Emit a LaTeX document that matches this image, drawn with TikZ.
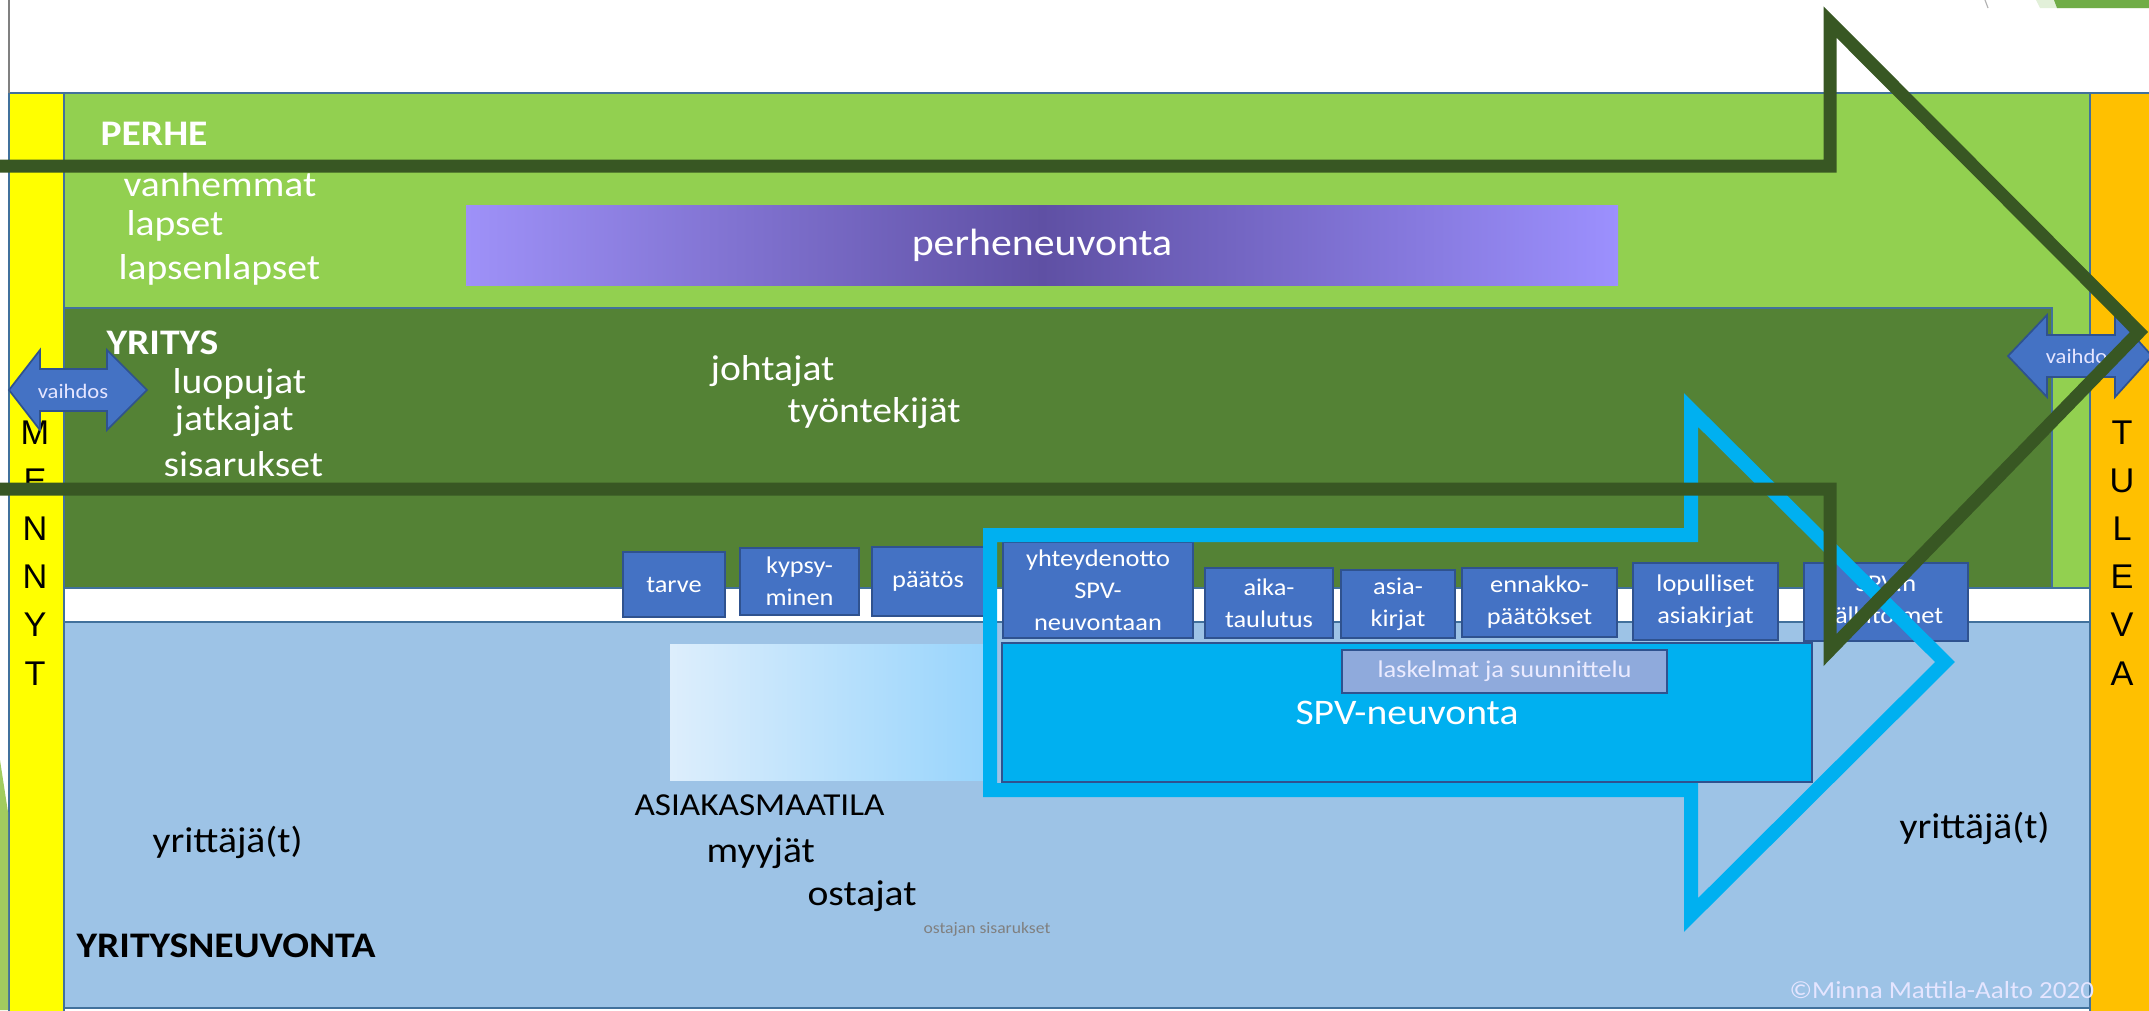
\documentclass[tikz,border=0pt]{standalone}
\usepackage{fontspec}
\setmainfont{Carlito}[FakeStretch=1.1]
\newfontfamily\arialfont{Liberation Sans}

\definecolor{perhegreen}{HTML}{92D050}
\definecolor{yritysgreen}{HTML}{548235}
\definecolor{arrowgreen}{HTML}{385723}
\definecolor{neuvblue}{HTML}{9DC3E6}
\definecolor{spvcyan}{HTML}{00B0F0}
\definecolor{stepblue}{HTML}{4472C4}
\definecolor{stepline}{HTML}{2F528F}
\definecolor{calcblue}{HTML}{8FAADC}
\definecolor{edgeblue}{HTML}{41719C}
\definecolor{pastyellow}{HTML}{FFFF00}
\definecolor{futureorange}{HTML}{FFC000}
\definecolor{purpleleft}{HTML}{9E91F8}
\definecolor{purpledark}{HTML}{5F50A4}
\definecolor{purpleright}{HTML}{9C90FE}
\definecolor{skylight}{HTML}{DDEEFC}
\definecolor{skymid}{HTML}{97D4FC}
\definecolor{slidegreen}{HTML}{70AD47}
\definecolor{slidepale}{HTML}{E2F0D9}
\definecolor{sliver}{HTML}{A2CC5E}

\newcommand{\pxl}{0.35pt}

\begin{document}
\begin{tikzpicture}[x=0.35pt, y=-0.35pt,
    band/.style={draw=edgeblue, line width=0.5pt},
    stepbox/.style={draw=stepline, line width=0.6pt, fill=stepblue, text=white,
      align=center, inner sep=0pt, font=\fontsize{8.4}{11.2}\selectfont},
    lbl/.style={anchor=base west, inner sep=0pt, text=white, font=\fontsize{12.6}{15}\selectfont},
    letter/.style={anchor=base, inner sep=0pt, font=\arialfont\fontsize{12}{14}\selectfont},
    vaihdos/.style={fill=stepblue, draw=stepline, line width=0.6pt},
    vtext/.style={inner sep=0pt, text=white!90!blue, font=\fontsize{7.2}{9}\selectfont}
  ]
    \useasboundingbox (0,0) rectangle (2149,1010);
    \clip (0,0) rectangle (2149,1010);
    \fill [white] (0,0) rectangle (2149,1010);

    % bands
    \draw [band, fill=perhegreen] (64,93) rectangle (2090,588);
    \draw [band, fill=yritysgreen] (64,308) rectangle (2052,588);
    \draw [band, fill=neuvblue] (64,622) rectangle (2090,1008);
    \draw [band, fill=pastyellow] (9,93) rectangle (64,1014);
    \draw [band, fill=futureorange] (2090,93) rectangle (2154,1014);
    \draw [gray, line width=0.4pt] (9,0) -- (9,93);

    % slide bits at the edges
    \fill [sliver] (0,760) -- (8,812) -- (8,1010) -- (0,1010) -- cycle;
    \fill [slidepale] (2036,0) -- (2149,0) -- (2149,8) -- (2040,8) -- cycle;
    \fill [slidegreen] (2054,0) -- (2149,0) -- (2149,8) -- (2057,8) -- cycle;
    \draw [gray!60, line width=0.4pt] (1985,0) -- (1988,8);

    % counselling areas
    \node [inner sep=0pt, minimum width=1152*\pxl, minimum height=80*\pxl,
      left color=purpleleft, right color=purpleright, middle color=purpledark,
      text=white, font=\fontsize{13.3}{16}\selectfont] (perheneuvonta) at (1042,245) {perheneuvonta};
    \node [inner sep=0pt, minimum width=320*\pxl, minimum height=136*\pxl,
      left color=skylight, right color=skymid] (maatila) at (830,712) {};
    \node [draw=stepline, line width=0.6pt, fill=spvcyan, inner sep=0pt,
      minimum width=810*\pxl, minimum height=139*\pxl,
      text=white, font=\fontsize{12.6}{15}\selectfont] (spv) at (1407,712.5) {SPV-neuvonta};
    \node [draw=stepline, line width=0.6pt, fill=calcblue, inner sep=0pt,
      minimum width=325*\pxl, minimum height=43*\pxl,
      text=white!92!blue, font=\fontsize{8.4}{10}\selectfont] (laskelmat) at (1504.5,671.5) {laskelmat ja suunnittelu};

    % steps
    \node [stepbox, minimum width=102*\pxl, minimum height=65*\pxl] (tarve) at (674,584.5) {tarve};
    \node [stepbox, minimum width=119*\pxl, minimum height=67*\pxl] (kypsyminen) at (799.5,581.5) {kypsy-\\minen};
    \node [stepbox, minimum width=112*\pxl, minimum height=69*\pxl] (paatos) at (928,581.5) {päätös};
    \node [stepbox, minimum width=190*\pxl, minimum height=96*\pxl] (yhteydenotto) at (1098,590) {yhteydenotto\\SPV-\\neuvontaan};
    \node [stepbox, minimum width=128*\pxl, minimum height=70*\pxl] (aikataulutus) at (1269,603) {aika-\\taulutus};
    \node [stepbox, minimum width=114*\pxl, minimum height=68*\pxl] (asiakirjat) at (1398,604) {asia-\\kirjat};
    \node [stepbox, minimum width=155*\pxl, minimum height=69*\pxl] (ennakko) at (1539.5,602.5) {ennakko-\\päätökset};
    \node [stepbox, minimum width=145*\pxl, minimum height=77*\pxl] (lopulliset) at (1705.5,601.5) {lopulliset\\asiakirjat};
    \node [stepbox, minimum width=164*\pxl, minimum height=78*\pxl] (jalkitoimet) at (1886,602) {SPV:n\\jälkitoimet};

    % time columns
    \foreach \ltr [count=\i from 0] in {M,E,N,N,Y,T}
        \node [letter] (menny\i) at (35,{444+48.2*\i}) {\ltr};
    \foreach \ltr [count=\i from 0] in {T,U,L,E,V,A}
        \node [letter] (tuleva\i) at (2122,{444+48.2*\i}) {\ltr};

    % family and company
    \node [lbl, font=\bfseries\fontsize{12.6}{15}\selectfont] (perhe) at (100,145) {PERHE};
    \node [lbl] (vanhemmat) at (123,196) {vanhemmat};
    \node [lbl] (lapset) at (126,235) {lapset};
    \node [lbl] (lapsenlapset) at (118,279) {lapsenlapset};
    \node [lbl, font=\bfseries\fontsize{12.6}{15}\selectfont] (yritys) at (106,354) {YRITYS};
    \node [lbl] (luopujat) at (172,393) {luopujat};
    \node [lbl] (jatkajat) at (174,430) {jatkajat};
    \node [lbl] (sisarukset) at (163,476) {sisarukset};
    \node [lbl] (johtajat) at (710,380) {johtajat};
    \node [lbl] (tyontekijat) at (787,422) {työntekijät};

    % business counselling
    \node [lbl, text=black] (yrittajaL) at (152,852) {yrittäjä(t)};
    \node [lbl, text=black] (yrittajaR) at (1899,838) {yrittäjä(t)};
    \node [lbl, text=black, font=\bfseries\fontsize{12.6}{15}\selectfont] (yritysneuvonta) at (76,957) {YRITYSNEUVONTA};
    \node [lbl, text=black, font=\fontsize{11.2}{13}\selectfont] (asiakasmaatila) at (634,815) {ASIAKASMAATILA};
    \node [lbl, text=black] (myyjat) at (706,862) {myyjät};
    \node [lbl, text=black] (ostajat) at (807,905) {ostajat};
    \node [lbl, text=gray, font=\fontsize{5.6}{7}\selectfont] (ostajansisarukset) at (923,933) {ostajan sisarukset};
    \node [lbl, text=white!90!blue, font=\fontsize{8.6}{10}\selectfont] (copyright) at (1789,998) {©Minna Mattila-Aalto 2020};

    % vaihdos arrows
    \draw [vaihdos] (9,390) -- (40,350) -- (40,369) -- (107,369) -- (107,350) -- (147,390)
        -- (107,430) -- (107,411) -- (40,411) -- (40,430) -- cycle;
    \node [vtext] (vaihdosL) at (73,391) {vaihdos};
    \draw [vaihdos] (2008,356) -- (2047,315) -- (2047,335) -- (2115,335) -- (2115,315) -- (2152,356)
        -- (2115,397) -- (2115,377) -- (2047,377) -- (2047,397) -- cycle;
    \node [vtext] (vaihdosR) at (2081,356) {vaihdos};

    % big outline arrows
    \draw [spvcyan, line width=4.9pt] (990,535) -- (1691,535) -- (1691,410) -- (1945,662)
        -- (1691,915) -- (1691,790) -- (990,790) -- cycle;
    \draw [arrowgreen, line width=4.55pt] (-40,166) -- (1830,166) -- (1830,22) -- (2139,332)
        -- (1830,650) -- (1830,489) -- (-40,489) -- cycle;
\end{tikzpicture}
\end{document}
